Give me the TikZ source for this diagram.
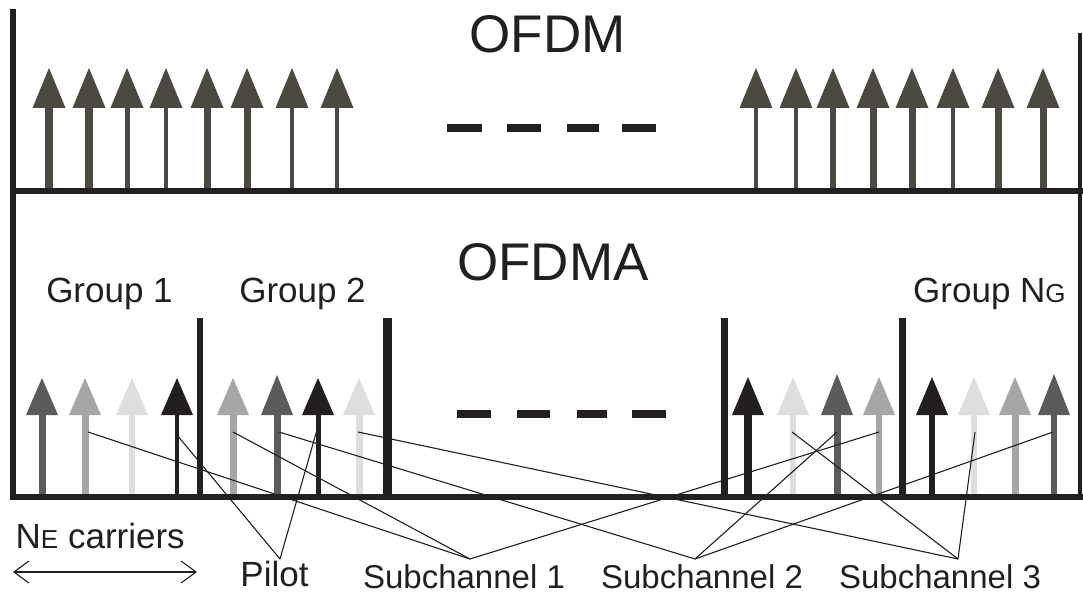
\documentclass[tikz,border=0pt]{standalone}
\usepackage{fontspec}
\setmainfont{Liberation Sans}
\usetikzlibrary{arrows.meta}
\definecolor{ink}{HTML}{231F20}
\definecolor{topc}{HTML}{4B4940}
\definecolor{dg}{HTML}{5D5A5A}
\definecolor{lg}{HTML}{A6A6A6}
\definecolor{vl}{HTML}{DEDEDE}
\begin{document}
\begin{tikzpicture}[x=1pt,y=-1pt,
  frame/.style={draw=ink,line cap=butt},
  link/.style={draw=ink,line width=1.1pt,line join=round},
  lbl/.style={inner sep=0pt,anchor=base,text=ink},
  big/.style={font=\fontsize{53}{60}\selectfont},
  mid/.style={font=\fontsize{35}{40}\selectfont},
  sub/.style={font=\fontsize{33}{38}\selectfont}]
\useasboundingbox (0,0) rectangle (1083,593);

% OFDM carriers (upper panel)
\foreach \x/\w in {49/8,89/8,127/5,166/4,207/7,247/7,292/4,337/4,
                   756/3.5,796/3.5,833/6,873/7,912/7,953/4,998/7,1043/7}{
  \fill[topc] ({\x-\w/2},191) rectangle ({\x+\w/2},107);
  \fill[topc] ({\x-16.5},108) -- ({\x+16.5},108) -- (\x,68) -- cycle;
}

% OFDMA carriers (lower panel), coloured by subchannel
\foreach \x/\t/\w/\c in {42/378/7/dg,85/378/7/lg,132/378/6/vl,177/378/4.5/ink,
                         233/378/7/lg,277/375/7/dg,318/378/5/ink,359/378/7/vl,
                         748/377/8/ink,793/377/6/vl,837/374/7/dg,879/377/6/lg,
                         932/377/6/ink,974/377/6/vl,1015/377/7/lg,1054/374/6/dg}{
  \fill[\c] ({\x-\w/2},497) rectangle ({\x+\w/2},414);
  \fill[\c] ({\x-16},415) -- ({\x+16},415) -- (\x,\t) -- cycle;
}

% ellipsis dashes
\foreach \a/\b in {447/482,507/541,567/599,622/656}
  \fill[ink] (\a,124) rectangle (\b,132);
\foreach \a/\b in {457/491,517/550,577/607,632/666}
  \fill[ink] (\a,410) rectangle (\b,418);

% group separators
\draw[frame,line width=6pt] (200,318) -- (200,497);
\draw[frame,line width=9pt] (387,318) -- (387,497);
\draw[frame,line width=7pt] (724,318) -- (724,497);
\draw[frame,line width=7pt] (902,318) -- (902,497);

% frame and frequency axes
\draw[frame,line width=6pt] (12.5,9) -- (12.5,500);
\draw[frame,line width=6pt] (9.5,191) -- (1083,191);
\draw[frame,line width=4pt] (1080,33) -- (1080,497);
\draw[frame,line width=6pt] (9.5,497) -- (1083,497);

% titles and labels
\node[lbl,big] (ofdm) at (547.5,53) {OFDM};
\node[lbl,big] (ofdma) at (553,281) {OFDMA};
\node[lbl,mid] (g1) at (109.5,302) {Group 1};
\node[lbl,mid] (g2) at (302.5,302) {Group 2};
\node[lbl,mid,anchor=base west] (gn) at (913,302) {Group N{\fontsize{26}{30}\selectfont G}};
\node[lbl,mid,anchor=base west] (ne) at (15.5,548) {N{\fontsize{26}{30}\selectfont E} carriers};
\node[lbl,mid] (pilot) at (274.5,586) {Pilot};
\node[lbl,sub] (sc1) at (464,588) {Subchannel 1};
\node[lbl,sub] (sc2) at (702,588) {Subchannel 2};
\node[lbl,sub] (sc3) at (940,588) {Subchannel 3};

% carrier span arrow
\coordinate (wl) at (13,572);
\coordinate (wr) at (197,572);
\draw[ink,line width=1.1pt,{Straight Barb[length=15pt,width=22pt]}-{Straight Barb[length=15pt,width=22pt]}] (wl) -- (wr);

% junction points above the labels
\coordinate (pt) at (280,559);
\coordinate (s1) at (470,559);
\coordinate (s2) at (695,559);
\coordinate (s3) at (958,559);

% carrier tap points
\coordinate (a177) at (177,435);
\coordinate (a318) at (317,430);
\coordinate (a88)  at (88,432);
\coordinate (a233) at (233,432);
\coordinate (a879) at (879,432);
\coordinate (a279) at (279,432);
\coordinate (a837) at (837,432);
\coordinate (a1053) at (1053,432);
\coordinate (a358) at (358,432);
\coordinate (a792) at (792,432);
\coordinate (a975) at (975,432);

% pilot and subchannel assignment lines
\draw[link] (a177) -- (pt) -- (a318);
\draw[link] (a88) -- (s1) -- (a879);
\draw[link] (a233) -- (s1);
\draw[link] (a279) -- (s2) -- (a837);
\draw[link] (a1053) -- (s2);
\draw[link] (a358) -- (s3) -- (a975);
\draw[link] (a792) -- (s3);
\end{tikzpicture}
\end{document}
